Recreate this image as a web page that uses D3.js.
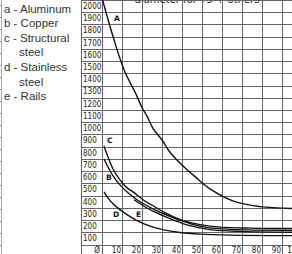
<!DOCTYPE html>
<html>
<head>
<meta charset="utf-8">
<script src="https://cdn.jsdelivr.net/npm/d3@7"></script>
<style>
  body { margin: 0; background: #fff; }
  svg { display: block; }
</style>
</head>
<body>
<svg class="chart"></svg>
<script>
// row / column labels of the grid
let rowLabels = d3.range(2000, 0, -100);
let colLabels = d3.range(10, 101, 10);
let legendLines = ["a - Aluminum", "b - Copper", "c - Structural", "steel", "d - Stainless", "steel", "e - Rails"];
let curveNames = ["A", "B", "C", "D", "E"];

// [diameter, value]
let aluminum = [[0.3,2000],[3,1840],[6,1675],[8.5,1545],[11,1430],[14,1325],[17,1230],[20,1120],[22.5,1050],[25.5,950],[30,855],[34,755],[40,650],[46.5,555],[54,455],[66.5,350],[79,310],[95,295]];
let copper = [[1,699],[3,634],[5.5,561],[9,488],[13,423],[17.5,366],[22.5,317],[27.5,276],[32.5,240],[37.5,207],[44,171],[51.5,142],[64,124],[95,116]];
let structural = [[1,805],[3,715],[5.5,618],[9,528],[12.5,463],[15.5,431],[20.5,366],[25.5,317],[30.5,268],[35.5,228],[41.5,191],[49,163],[59,142],[74,134],[95,132]];
let stainless = [[1,431],[3,382],[5.5,333],[9,285],[12.5,244],[17.5,195],[24,150],[31.5,118],[39,98],[49,85],[64,77],[95,73]];
let rails = [[16,366],[21,313],[26,268],[31,232],[36.5,195],[44,154],[54,122],[69,107],[95,100]];

let width = 292, height = 254;
let svg = d3.select(".chart").attr("width", width).attr("height", height);

let x = d3.scaleLinear().domain([0, 95]).range([102, 292]);
let y = d3.scaleLinear().domain([0, 2000]).range([244.5, 0]);
let rowH = y(0) - y(100);
let labelLeft = 81;
let cellFont = "DejaVu Sans Condensed, DejaVu Sans, sans-serif";

// faint fragments of the neighbouring table on the far left
let g0 = svg.append("g");
g0.append("line").attr("x1", 1.5).attr("x2", 1.5).attr("y1", 0).attr("y2", height)
  .style("stroke", "#aaa");
d3.range(0, 21).forEach(function(i) {
  g0.append("line").attr("x1", 0).attr("x2", 1.5)
    .attr("y1", 5.5 + i * 12).attr("y2", 5.5 + i * 12).style("stroke", "#999");
});

// legend
svg.append("g").selectAll("text")
  .data(legendLines)
  .join("text")
  .attr("x", d => d == "steel" ? 19 : 4)
  .attr("y", (d, i) => 12.5 + i * 14.6)
  .attr("font-family", "Liberation Sans, Arial, sans-serif")
  .attr("font-size", 11.5)
  .style("fill", "#333")
  .text(d => d);

// title, cut at the top edge
svg.append("text")
  .attr("x", 197).attr("y", 2.5)
  .attr("text-anchor", "middle")
  .attr("font-family", "DejaVu Sans, sans-serif")
  .attr("font-size", 10)
  .style("fill", "#222")
  .text("diameter for 75 + others");

// grid
let grid = svg.append("g");
d3.range(0, 2001, 100).forEach(function(v) {
  grid.append("line")
    .attr("x1", labelLeft).attr("x2", width)
    .attr("y1", Math.round(y(v)) + 0.5).attr("y2", Math.round(y(v)) + 0.5)
    .style("stroke", "#666");
});
[labelLeft].concat(d3.range(0, 100, 10).map(d => x(d))).forEach(function(px) {
  grid.append("line")
    .attr("x1", Math.round(px) + 0.5).attr("x2", Math.round(px) + 0.5)
    .attr("y1", 0).attr("y2", height)
    .style("stroke", "#666");
});

// row labels
grid.selectAll(".rowlabel")
  .data(rowLabels)
  .join("text")
  .attr("class", "rowlabel")
  .attr("x", labelLeft + 2)
  .attr("y", d => y(d) + rowH / 2)
  .attr("dy", ".35em")
  .attr("font-family", cellFont)
  .attr("font-size", 8)
  .style("fill", "#222")
  .text(d => d);

// bottom row: diameter labels
grid.selectAll(".collabel")
  .data(colLabels)
  .join("text")
  .attr("class", "collabel")
  .attr("x", d => x(d) - 1)
  .attr("y", y(0) + rowH / 2)
  .attr("dy", ".32em")
  .attr("text-anchor", "end")
  .attr("font-family", cellFont)
  .attr("font-size", 8)
  .style("fill", "#222")
  .text(d => d);
grid.append("text")
  .attr("x", x(0) - 2)
  .attr("y", y(0) + rowH / 2)
  .attr("dy", ".32em")
  .attr("text-anchor", "end")
  .attr("font-family", cellFont)
  .attr("font-size", 8)
  .style("fill", "#222")
  .text("Ø");

// curves
svg.append("clipPath").attr("id", "plot")
  .append("rect").attr("x", x(0)).attr("y", 0).attr("width", width - x(0)).attr("height", y(0));
let line = d3.line().x(d => x(d[0])).y(d => y(d[1])).curve(d3.curveCatmullRom);
svg.append("g").attr("clip-path", "url(#plot)")
  .selectAll("path")
  .data([aluminum, copper, structural, stainless, rails])
  .join("path")
  .attr("d", line)
  .style("fill", "none")
  .style("stroke", "#111")
  .style("stroke-width", 1.4);

// curve letters
let labelAt = {A: [6, 1850], B: [2, 550], C: [2.5, 850], D: [5.5, 250], E: [17, 250]};
svg.append("g").selectAll("text")
  .data(curveNames)
  .join("text")
  .attr("x", d => x(labelAt[d][0]))
  .attr("y", d => y(labelAt[d][1]))
  .attr("dy", ".35em")
  .attr("font-family", "DejaVu Sans, sans-serif")
  .attr("font-weight", "bold")
  .attr("font-size", 7.5)
  .style("fill", "#111")
  .text(d => d);
</script>
</body>
</html>
